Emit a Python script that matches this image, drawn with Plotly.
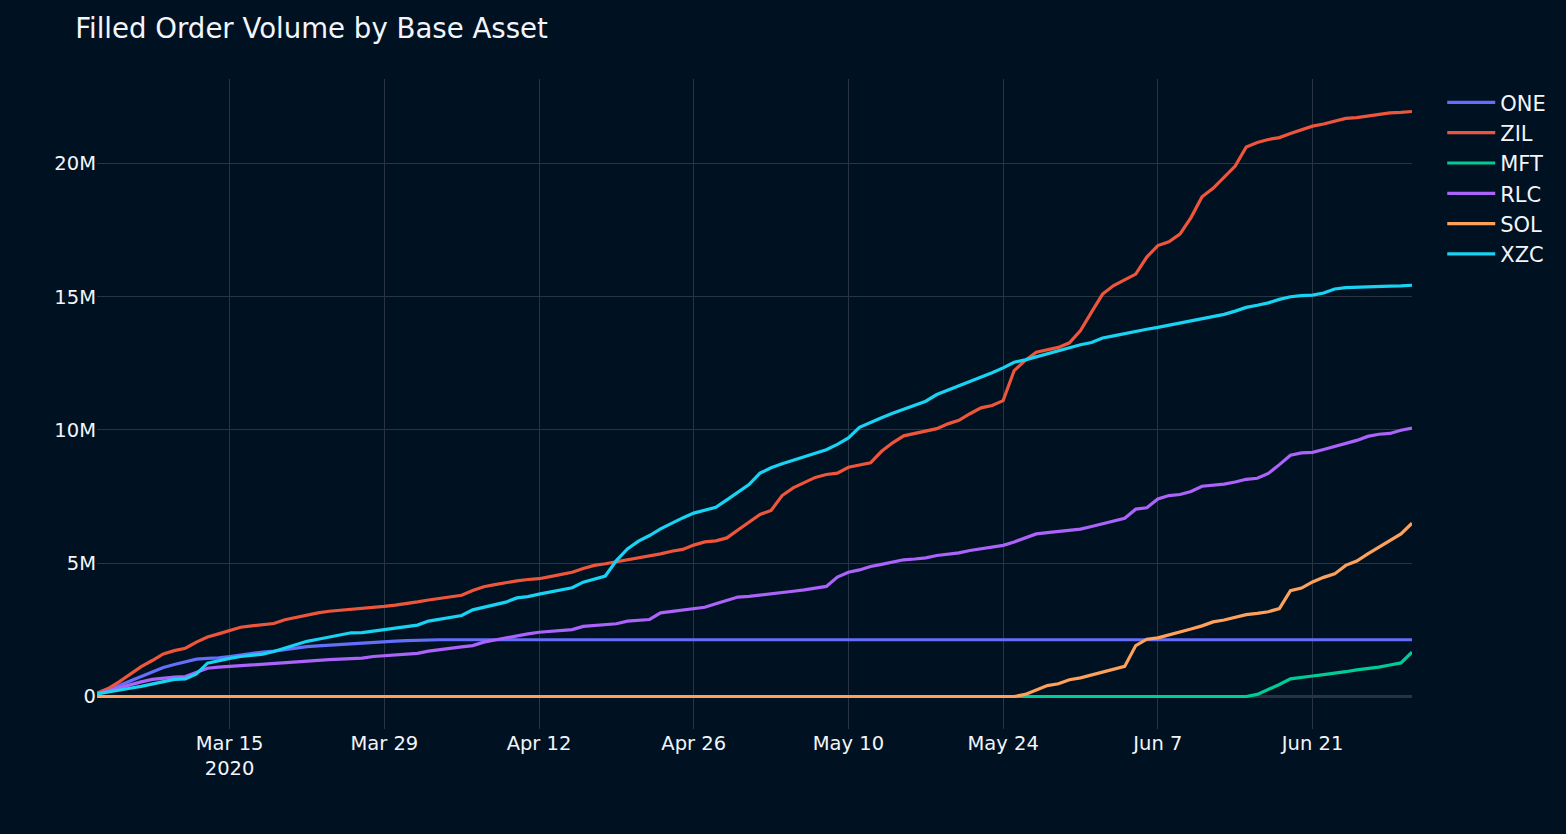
import pandas as pd
import plotly.graph_objects as go

# Daily dates, Mar 3 2020 .. Jun 30 2020
dates = pd.date_range("2020-03-03", "2020-06-30", freq="D")

# Cumulative filled order volume, in millions
one = [0.12, 0.25, 0.40, 0.58, 0.75, 0.92, 1.09, 1.20, 1.30, 1.40,
       1.43, 1.45, 1.50, 1.56, 1.62, 1.67, 1.70, 1.76, 1.83, 1.87,
       1.90, 1.93, 1.96, 1.99, 2.02, 2.04, 2.06, 2.08, 2.10, 2.12] + [2.13] * 90

zil = [0.12, 0.30, 0.55, 0.85, 1.12, 1.35, 1.60, 1.72, 1.81, 2.04,
       2.23, 2.35, 2.48, 2.60, 2.65, 2.69, 2.74, 2.88, 2.97, 3.07,
       3.14, 3.20, 3.23, 3.26, 3.29, 3.32, 3.38, 3.43, 3.48, 3.55,
       3.62, 3.69, 3.73, 3.80, 3.98, 4.12, 4.20, 4.28, 4.34, 4.39,
       4.42, 4.50, 4.58, 4.66, 4.80, 4.92, 4.98, 5.05, 5.12, 5.20,
       5.27, 5.35, 5.45, 5.52, 5.68, 5.80, 5.84, 5.95, 6.25, 6.55,
       6.83, 6.98, 7.54, 7.83, 8.04, 8.22, 8.33, 8.38, 8.60, 8.68,
       8.77, 9.20, 9.52, 9.78, 9.88, 9.97, 10.05, 10.23, 10.36, 10.61,
       10.83, 10.92, 11.10, 12.23, 12.61, 12.92, 13.02, 13.10, 13.27, 13.73,
       14.42, 15.10, 15.42, 15.62, 15.85, 16.49, 16.92, 17.06, 17.35, 17.97,
       18.75, 19.07, 19.47, 19.90, 20.62, 20.79, 20.90, 20.97, 21.12, 21.27,
       21.40, 21.48, 21.58, 21.69, 21.72, 21.78, 21.83, 21.90, 21.92, 21.95]

mft = [0.0] * 105 + [0.08, 0.25, 0.45, 0.66, 0.73, 0.77, 0.82, 0.86, 0.93, 1.00,
                     1.05, 1.10, 1.18, 1.26, 1.66]

rlc = [0.10, 0.22, 0.34, 0.45, 0.55, 0.64, 0.70, 0.73, 0.75, 0.91,
       1.06, 1.10, 1.13, 1.15, 1.18, 1.20, 1.23, 1.29, 1.31, 1.33,
       1.36, 1.38, 1.40, 1.42, 1.44, 1.50, 1.53, 1.56, 1.59, 1.62,
       1.70, 1.76, 1.81, 1.86, 1.91, 2.04, 2.12, 2.20, 2.29, 2.35,
       2.41, 2.45, 2.48, 2.51, 2.63, 2.67, 2.70, 2.73, 2.83, 2.86,
       2.89, 3.14, 3.20, 3.25, 3.29, 3.35, 3.48, 3.60, 3.73, 3.76,
       3.80, 3.85, 3.90, 3.95, 4.00, 4.06, 4.13, 4.48, 4.66, 4.75,
       4.88, 4.96, 5.05, 5.13, 5.16, 5.20, 5.29, 5.34, 5.39, 5.48,
       5.55, 5.61, 5.67, 5.80, 5.95, 6.10, 6.15, 6.20, 6.24, 6.28,
       6.38, 6.48, 6.58, 6.69, 7.03, 7.08, 7.41, 7.54, 7.58, 7.69,
       7.89, 7.93, 7.97, 8.05, 8.15, 8.19, 8.37, 8.70, 9.05, 9.14,
       9.16, 9.27, 9.38, 9.48, 9.61, 9.76, 9.84, 9.87, 9.99, 10.07]

sol = [0.0] * 84 + [0.08, 0.25, 0.41, 0.48, 0.63, 0.70, 0.80, 0.90, 1.03, 1.13,
                    1.91, 2.15, 2.20, 2.30, 2.41, 2.53, 2.65, 2.80, 2.87, 2.97,
                    3.07, 3.12, 3.18, 3.30, 3.97, 4.07, 4.30, 4.47, 4.60, 4.92,
                    5.08, 5.35, 5.60, 5.88, 6.10, 6.50]

xzc = [0.10, 0.18, 0.25, 0.31, 0.38, 0.47, 0.56, 0.64, 0.66, 0.85,
       1.25, 1.35, 1.43, 1.50, 1.55, 1.59, 1.69, 1.81, 1.95, 2.07,
       2.15, 2.23, 2.31, 2.39, 2.40, 2.45, 2.52, 2.58, 2.63, 2.68,
       2.83, 2.90, 2.97, 3.04, 3.25, 3.35, 3.45, 3.54, 3.70, 3.75,
       3.84, 3.92, 4.00, 4.08, 4.29, 4.40, 4.52, 5.10, 5.54, 5.83,
       6.04, 6.29, 6.50, 6.70, 6.88, 7.00, 7.10, 7.38, 7.66, 7.95,
       8.38, 8.58, 8.73, 8.86, 8.99, 9.12, 9.26, 9.46, 9.70, 10.10,
       10.29, 10.46, 10.63, 10.79, 10.92, 11.08, 11.33, 11.49, 11.65, 11.80,
       11.97, 12.15, 12.33, 12.54, 12.63, 12.74, 12.86, 12.97, 13.10, 13.20,
       13.28, 13.45, 13.53, 13.62, 13.70, 13.78, 13.85, 13.93, 14.02, 14.10,
       14.18, 14.26, 14.34, 14.46, 14.60, 14.68, 14.77, 14.90, 15.00, 15.04,
       15.06, 15.14, 15.29, 15.34, 15.36, 15.37, 15.39, 15.40, 15.41, 15.43]

series_names = ["ONE", "ZIL", "MFT", "RLC", "SOL", "XZC"]
series_values = [one, zil, mft, rlc, sol, xzc]
colors = ["#636efa", "#EF553B", "#00cc96", "#ab63fa", "#FFA15A", "#19d3f3"]

BG = "#001122"
FONT = "DejaVu Sans, Verdana, sans-serif"

fig = go.Figure()
for name, vals, col in zip(series_names, series_values, colors):
    fig.add_trace(go.Scatter(
        x=dates, y=[v * 1e6 for v in vals], mode="lines", name=name,
        line=dict(color=col, width=3.2),
    ))

fig.update_layout(
    template="plotly_dark",
    width=1566, height=834,
    paper_bgcolor=BG, plot_bgcolor=BG,
    font=dict(family=FONT, size=19, color="#f2f5fa"),
    title=dict(text="Filled Order Volume by Base Asset", x=0.048, xanchor="left",
               y=1 - 28 / 834, yref="container", yanchor="middle",
               font=dict(size=27.6, family=FONT, color="#f2f5fa")),
    margin=dict(l=97, r=154, t=79, b=105),
    showlegend=True,
    legend=dict(font=dict(size=21, family=FONT), x=1.023, y=0.995, itemwidth=48),
    xaxis=dict(gridcolor="#283442", showgrid=True, zeroline=False,
               tick0="2020-03-15", dtick=14 * 86400000,
               tickfont=dict(size=19.5)),
    yaxis=dict(gridcolor="#283442", zerolinecolor="#283442", zerolinewidth=3,
               dtick=5e6, showgrid=True, tickfont=dict(size=19.5)),
)

fig.write_html(
    "out.html",
    config={"displayModeBar": False},
    post_script="document.body.style.margin='0';"
                "document.body.style.backgroundColor='#001122';",
)
